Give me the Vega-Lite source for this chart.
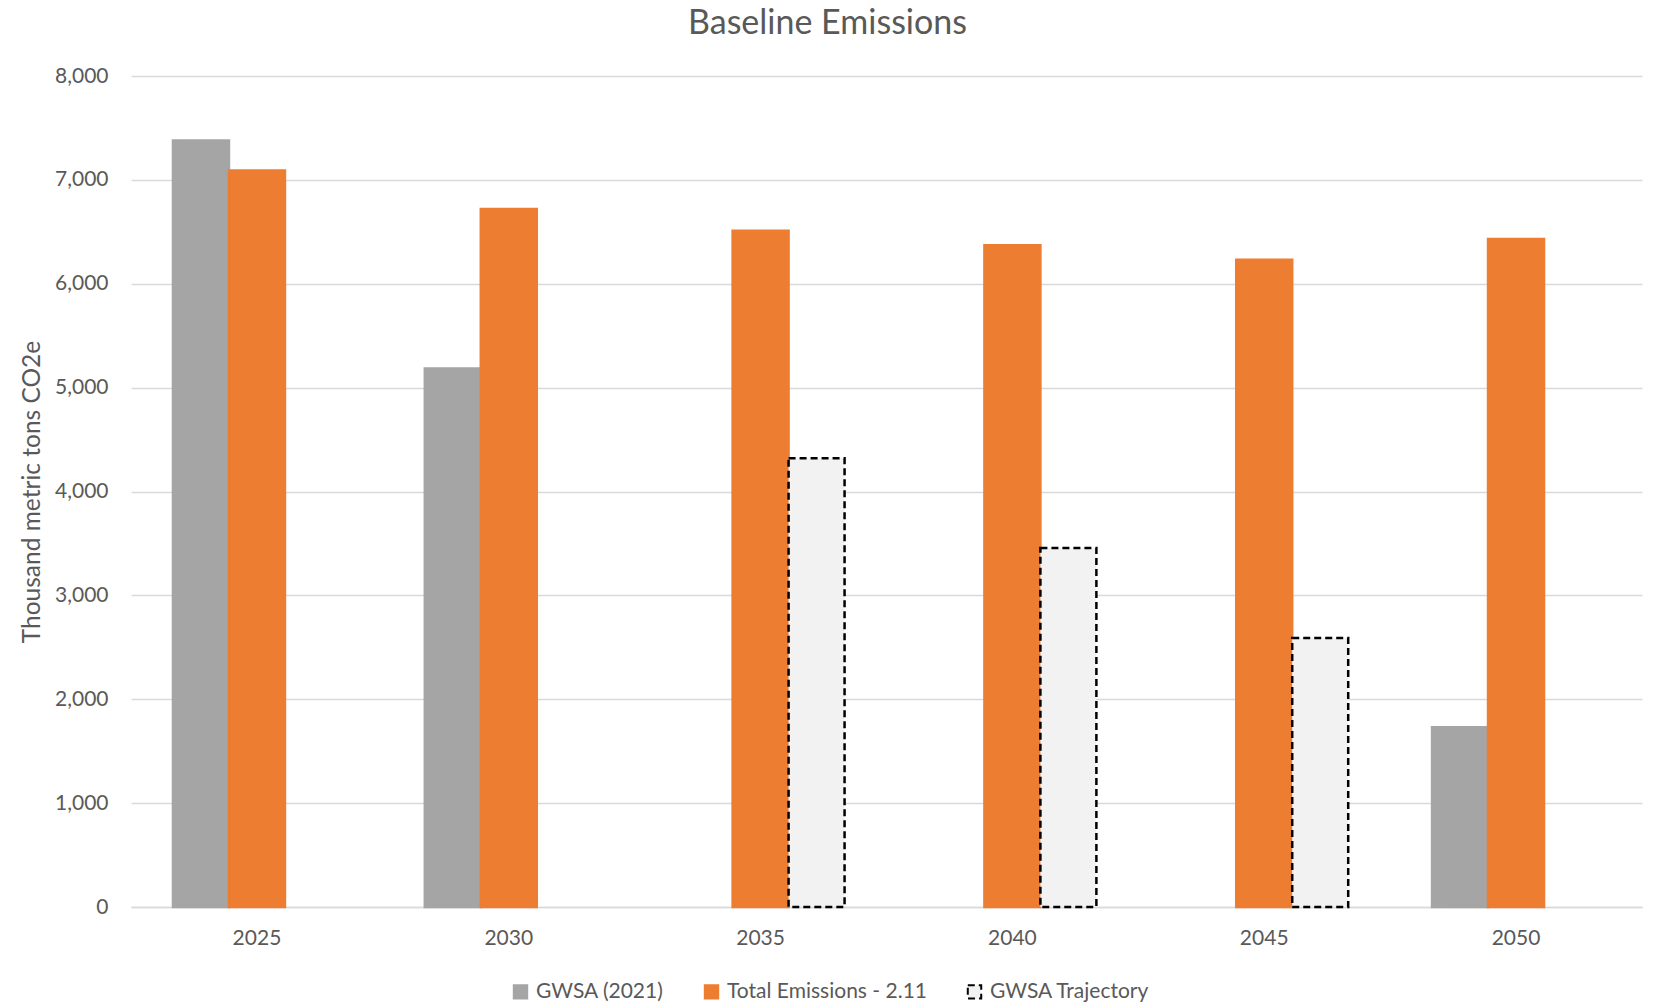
{
  "$schema": "https://vega.github.io/schema/vega-lite/v6.json",
  "autosize": {"type": "none"},
  "padding": {"left": 131, "top": 76, "right": 11, "bottom": 98},
  "width": 1511,
  "height": 831,
  "background": "white",
  "title": {
    "text": "Baseline Emissions",
    "font": "Lato",
    "fontSize": 34,
    "fontWeight": "normal",
    "color": "#595959",
    "anchor": "middle",
    "dx": -59,
    "offset": 24
  },
  "data": {
    "values": [
      {"year": "2025", "series": "GWSA (2021)", "value": 7380},
      {"year": "2025", "series": "Total Emissions - 2.11", "value": 7090},
      {"year": "2030", "series": "GWSA (2021)", "value": 5185},
      {"year": "2030", "series": "Total Emissions - 2.11", "value": 6720},
      {"year": "2035", "series": "Total Emissions - 2.11", "value": 6510},
      {"year": "2035", "series": "GWSA Trajectory", "value": 4320},
      {"year": "2040", "series": "Total Emissions - 2.11", "value": 6370},
      {"year": "2040", "series": "GWSA Trajectory", "value": 3455},
      {"year": "2045", "series": "Total Emissions - 2.11", "value": 6230},
      {"year": "2045", "series": "GWSA Trajectory", "value": 2590},
      {"year": "2050", "series": "GWSA (2021)", "value": 1730},
      {"year": "2050", "series": "Total Emissions - 2.11", "value": 6430}
    ]
  },
  "mark": {"type": "bar", "strokeWidth": 2.5},
  "encoding": {
    "x": {
      "field": "year",
      "type": "nominal",
      "sort": ["2025", "2030", "2035", "2040", "2045", "2050"],
      "scale": {"paddingInner": 0.333, "paddingOuter": 0.1667},
      "axis": {
        "title": null,
        "labelAngle": 0,
        "labelFont": "Lato",
        "labelFontSize": 21,
        "labelColor": "#595959",
        "labelPadding": 20,
        "ticks": false,
        "domainColor": "#d9d9d9",
        "domainWidth": 1.5
      }
    },
    "xOffset": {
      "field": "series",
      "type": "nominal",
      "scale": {
        "domain": ["GWSA (2021)", "Total Emissions - 2.11", "GWSA Trajectory"],
        "paddingInner": 0,
        "paddingOuter": 0
      }
    },
    "y": {
      "field": "value",
      "type": "quantitative",
      "scale": {"domain": [0, 8000], "nice": false},
      "axis": {
        "title": "Thousand metric tons CO2e",
        "titleFont": "Lato",
        "titleFontSize": 24.5,
        "titleFontWeight": "normal",
        "titleColor": "#595959",
        "titleBaseline": "alphabetic",
        "titleX": -92,
        "values": [0, 1000, 2000, 3000, 4000, 5000, 6000, 7000, 8000],
        "format": ",.0f",
        "labelFont": "Lato",
        "labelFontSize": 21,
        "labelColor": "#595959",
        "labelPadding": 23,
        "ticks": false,
        "domain": false,
        "gridColor": "#d9d9d9",
        "gridWidth": 1.5
      }
    },
    "fill": {
      "field": "series",
      "type": "nominal",
      "scale": {
        "domain": ["GWSA (2021)", "Total Emissions - 2.11", "GWSA Trajectory"],
        "range": ["#a5a5a5", "#ed7d31", "#f2f2f2"]
      },
      "legend": {
        "title": null,
        "orient": "none",
        "direction": "horizontal",
        "legendX": 379,
        "legendY": 905,
        "symbolType": "square",
        "symbolSize": 180,
        "symbolStrokeWidth": 2,
        "labelFont": "Lato",
        "labelFontSize": 21,
        "labelColor": "#595959",
        "labelOffset": 5,
        "labelLimit": 500,
        "columnPadding": 36
      }
    },
    "stroke": {
      "field": "series",
      "type": "nominal",
      "scale": {
        "domain": ["GWSA (2021)", "Total Emissions - 2.11", "GWSA Trajectory"],
        "range": ["#a5a5a5", "#ed7d31", "#000000"]
      },
      "legend": {
        "title": null,
        "orient": "none",
        "direction": "horizontal",
        "legendX": 379,
        "legendY": 905,
        "symbolType": "square",
        "symbolSize": 180,
        "symbolStrokeWidth": 2,
        "labelFont": "Lato",
        "labelFontSize": 21,
        "labelColor": "#595959",
        "labelOffset": 5,
        "labelLimit": 500,
        "columnPadding": 36
      }
    },
    "strokeDash": {
      "field": "series",
      "type": "nominal",
      "scale": {
        "domain": ["GWSA (2021)", "Total Emissions - 2.11", "GWSA Trajectory"],
        "range": [[1, 0], [1, 0], [7, 4]]
      },
      "legend": {
        "title": null,
        "orient": "none",
        "direction": "horizontal",
        "legendX": 379,
        "legendY": 905,
        "symbolType": "square",
        "symbolSize": 180,
        "symbolStrokeWidth": 2,
        "labelFont": "Lato",
        "labelFontSize": 21,
        "labelColor": "#595959",
        "labelOffset": 5,
        "labelLimit": 500,
        "columnPadding": 36
      }
    }
  },
  "config": {
    "view": {"stroke": null}
  }
}
